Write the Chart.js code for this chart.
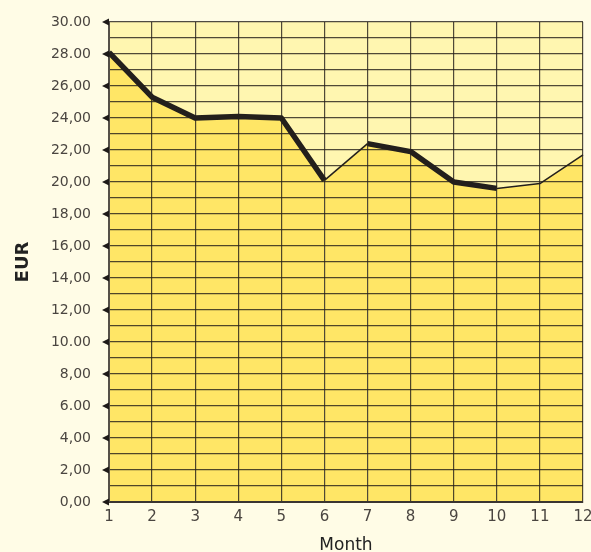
<!DOCTYPE html>
<html>
<head>
<style>
	html, body { margin: 0; padding: 0; background: #fffce6; }
	#wrap { width: 591px; height: 552px; }
</style>
</head>
<body>
	<div id="wrap">
		<canvas id="myChart"></canvas>
	</div>

	<script src="https://cdn.jsdelivr.net/npm/chart.js"></script>

	<script>
		const months = ['1', '2', '3', '4', '5', '6', '7', '8', '9', '10', '11', '12'];
		const eurValues = [28.1, 25.3, 24.0, 24.1, 24.0, 20.1, 22.4, 21.9, 20.0, 19.6, 19.9, 21.7];
		const yTickLabels = ['0,00', '2,00', '4,00', '6.00', '8,00', '10.00', '12,00', '14,00',
			'16,00', '18,00', '20,00', '22,00', '24,00', '26,00', '28.00', '30.00'];

		// segments drawn with a thin pen in the original
		const thinSegments = [5, 9, 10];

		const gridColor = 'rgba(35, 30, 25, 0.8)';

		// little black arrowheads next to the labelled y ticks
		const arrowTicks = {
			id: 'arrowTicks',
			afterDraw(chart) {
				const y = chart.scales.y;
				const c = chart.ctx;
				const x0 = chart.chartArea.left;
				c.save();
				c.fillStyle = '#1e1a18';
				for (let v = 0; v <= 30; v += 2) {
					const py = y.getPixelForValue(v);
					c.beginPath();
					c.moveTo(x0 - 7, py);
					c.lineTo(x0, py - 3.5);
					c.lineTo(x0, py + 3.5);
					c.closePath();
					c.fill();
				}
				c.restore();
			}
		};

		const data = {
			labels: months,
			datasets: [
				{
					label: 'EUR',
					data: eurValues,
					borderColor: '#231f1c',
					borderWidth: 5,
					borderJoinStyle: 'round',
					pointRadius: 0,
					tension: 0,
					fill: 'origin',
					backgroundColor: '#ffe666',
					segment: {
						borderWidth: (ctx) => thinSegments.includes(ctx.p0DataIndex) ? 1.5 : 5.5,
					},
				},
				{
					label: 'top',
					data: eurValues,
					borderWidth: 0,
					pointRadius: 0,
					tension: 0,
					fill: 'end',
					backgroundColor: '#fff6b0',
				},
			]
		};

		const options = {
			responsive: true,
			maintainAspectRatio: false,
			animation: false,
			layout: { padding: { top: 22, right: 0, left: 0, bottom: 0 } },
			plugins: {
				legend: { display: false },
				tooltip: { enabled: false },
				filler: { drawTime: 'beforeDraw' },
			},
			scales: {
				x: {
					offset: false,
					afterFit(scale) {
						scale.height = 50;
						scale.paddingRight = 8;
					},
					grid: { color: gridColor, lineWidth: 1.2, drawTicks: false },
					border: { color: '#3a3530', width: 2 },
					ticks: {
						padding: 6,
						color: '#4a4540',
						font: { family: 'DejaVu Sans', size: 15 },
						maxRotation: 0,
					},
					title: {
						display: true,
						text: 'Month',
						color: '#222',
						font: { family: 'DejaVu Sans', size: 17 },
						padding: { top: 0, bottom: -4 },
					},
				},
				y: {
					min: 0,
					max: 30,
					afterFit(scale) {
						scale.width = 109;
						scale.paddingTop = 0;
						scale.paddingBottom = 0;
					},
					grid: { color: gridColor, lineWidth: 1.2, drawTicks: false },
					border: { color: '#555048', width: 2 },
					ticks: {
						stepSize: 1,
						autoSkip: false,
						padding: 18,
						color: '#4a4540',
						font: { family: 'DejaVu Sans', size: 14 },
						callback: (v) => v % 2 === 0 ? yTickLabels[v / 2] : '',
					},
					title: {
						display: true,
						text: 'EUR',
						color: '#222',
						font: { family: 'DejaVu Sans', size: 18, weight: 'bold' },
						padding: { top: 13, bottom: 0 },
					},
				},
			},
		};

		const chart = new Chart(document.getElementById('myChart'), {
			type: 'line',
			data: data,
			options: options,
			plugins: [arrowTicks],
		});
	</script>
</body>
</html>
